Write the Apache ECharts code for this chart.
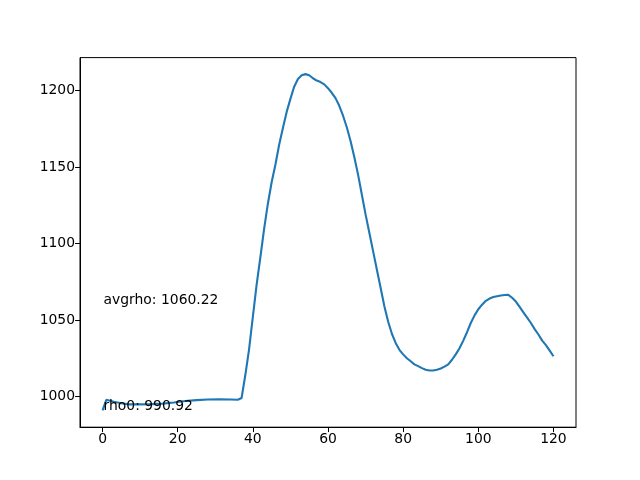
<!DOCTYPE html>
<html>
<head>
<meta charset="utf-8">
<script src="https://cdn.jsdelivr.net/npm/echarts@6/dist/echarts.min.js"></script>
<style>html,body{margin:0;padding:0;background:#fff}#c{width:640px;height:480px}</style>
</head>
<body>
<div id="c"></div>
<script>
const xs = [0,1,3,5,7,10,13,16,19,22,25,28,31,34,36,37,38,39,40,41,42,43,44,45,46,47,48,49,50,51,52,53,54,55,56,57,58,59,60,61,62,63,64,65,66,67,68,69,70,71,72,73,74,75,76,77,78,79,80,81,82,83,84,85,86,87,88,89,90,91,92,93,94,95,96,97,98,99,100,101,102,103,104,105,106,107,108,109,110,111,112,113,114,115,116,117,118,119,120];
const rho = [990.9,997.8,996.5,995.5,994.8,994.8,995.0,995.3,996.0,997.0,997.6,998.0,998.1,998.0,997.8,999.0,1014,1031,1052,1073,1091,1109.5,1126,1140,1151.5,1164.5,1175.5,1186,1194.5,1202.5,1207.5,1210,1210.7,1210,1208,1206.5,1205.5,1204,1201.5,1198.5,1195,1190,1183.5,1176,1167,1156.5,1145,1132,1119,1107,1095,1083,1071,1059,1049,1041,1035,1030.5,1027.5,1025,1023,1021,1019.8,1018.5,1017.5,1017,1017,1017.5,1018.3,1019.5,1021,1024,1027.5,1031.5,1036.5,1042,1048,1053,1057,1060,1062.5,1064,1065,1065.5,1066,1066.3,1066.4,1064.5,1062,1058.5,1055,1051.5,1048,1044,1040.5,1036.5,1033.5,1030,1026.3];
const xTicks = [0,20,40,60,80,100,120];
const yTicks = [1000,1050,1100,1150,1200];
const notes = [
  {x: 0, y: 1060.22, text: 'avgrho: 1060.22'},
  {x: 0, y: 990.92, text: 'rho0: 990.92'}
];

const chart = echarts.init(document.getElementById('c'), null, {renderer: 'canvas'});
const font = 'DejaVu Sans';
chart.setOption({
  animation: false,
  backgroundColor: '#fff',
  grid: {left: 80, right: 64, top: 57.6, bottom: 52.8, show: true, borderColor: '#000', borderWidth: 1, backgroundColor: 'transparent'},
  xAxis: {
    type: 'value', min: -6, max: 126,
    axisLine: {show: true, onZero: false, lineStyle: {color: '#000', width: 1}},
    splitLine: {show: false},
    axisTick: {show: true, length: 4.9, customValues: xTicks, lineStyle: {color: '#000'}},
    axisLabel: {customValues: xTicks, color: '#000', fontFamily: font, fontSize: 13.9, margin: 5, formatter: v => String(v)},
  },
  yAxis: {
    type: 'value', min: 979.9, max: 1221.5,
    axisLine: {show: true, onZero: false, lineStyle: {color: '#000', width: 1}},
    splitLine: {show: false},
    axisTick: {show: true, length: 4.9, customValues: yTicks, lineStyle: {color: '#000'}},
    axisLabel: {customValues: yTicks, color: '#000', fontFamily: font, fontSize: 13.9, margin: 5, formatter: v => String(v)},
  },
  series: [
    {
      type: 'line',
      data: xs.map((x, i) => [x, rho[i]]),
      showSymbol: false,
      smooth: false,
      lineStyle: {color: '#1f77b4', width: 2.1},
      z: 2
    },
    {
      type: 'scatter',
      data: notes.map(n => [n.x, n.y]),
      symbolSize: 0,
      z: 3,
      itemStyle: {opacity: 1},
      label: {
        show: true,
        position: 'right',
        distance: 0,
        offset: [1, -4],
        color: '#000',
        opacity: 1,
        fontFamily: font,
        fontSize: 13.9,
        formatter: p => notes[p.dataIndex].text
      }
    }
  ]
});
</script>
</body>
</html>
